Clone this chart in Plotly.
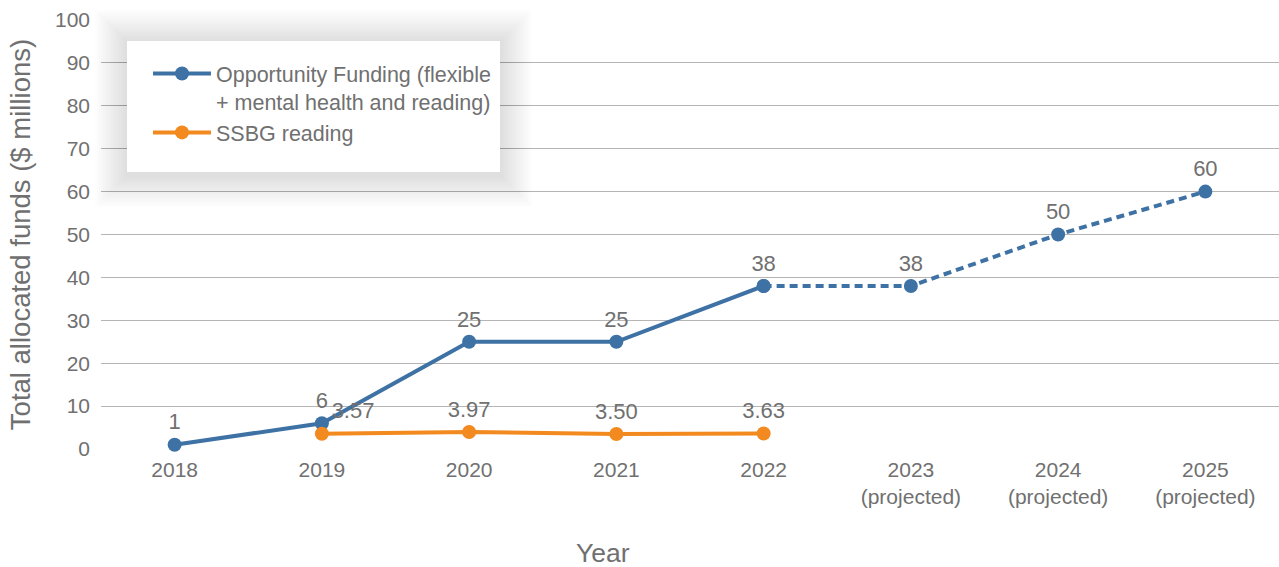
import plotly.graph_objects as go

# Funding years (the last three are projections)
years = ["2018", "2019", "2020", "2021", "2022",
         "2023<br>(projected)", "2024<br>(projected)", "2025<br>(projected)"]

# Opportunity Funding, $ millions
opportunity_actual = [1, 6, 25, 25, 38]
opportunity_projected = [38, 38, 50, 60]          # 2022 anchor + 2023-2025

# SSBG reading, $ millions (2019-2022)
ssbg_years = ["2019", "2020", "2021", "2022"]
ssbg_values = [3.57, 3.97, 3.50, 3.63]

y_ticks = [0, 10, 20, 30, 40, 50, 60, 70, 80, 90, 100]

BLUE = "#3E72A5"
ORANGE = "#F28A1F"
TEXT = "#707070"
GRID = "#B5B5B5"
FONT = "Liberation Sans, Arial, Helvetica, sans-serif"

W, H = 1279, 567
M_L, M_R, M_T, M_B = 101, 0, 20, 118
PW, PH = W - M_L - M_R, H - M_T - M_B


def px_x(px):
    return (px - M_L) / PW


def px_y(py):
    return (H - M_B - py) / PH


fig = go.Figure()

fig.add_trace(go.Scatter(
    x=years[:5], y=opportunity_actual,
    mode="lines+markers+text",
    name="Opportunity Funding (flexible<br>+ mental health and reading)",
    line=dict(color=BLUE, width=4),
    marker=dict(color=BLUE, size=14),
    text=[f"{v:.0f}" for v in opportunity_actual],
    textposition="top center",
    textfont=dict(color=TEXT, size=22, family=FONT),
    cliponaxis=False,
))

fig.add_trace(go.Scatter(
    x=years[4:], y=opportunity_projected,
    mode="lines+markers+text",
    showlegend=False,
    line=dict(color=BLUE, width=4, dash="8px,5px"),
    marker=dict(color=BLUE, size=14),
    text=[""] + [f"{v:.0f}" for v in opportunity_projected[1:]],
    textposition="top center",
    textfont=dict(color=TEXT, size=22, family=FONT),
    cliponaxis=False,
))

fig.add_trace(go.Scatter(
    x=ssbg_years, y=ssbg_values,
    mode="lines+markers+text",
    name="SSBG reading",
    line=dict(color=ORANGE, width=4),
    marker=dict(color=ORANGE, size=14),
    text=[f"{v:.2f}" for v in ssbg_values],
    textposition=["top right", "top center", "top center", "top center"],
    textfont=dict(color=TEXT, size=22, family=FONT),
    cliponaxis=False,
))

# Legend panel: white card with a soft drop shadow
box_l, box_t, box_r, box_b = 127, 41, 500, 172
shapes = []
layers = 16
for i in range(layers, 0, -1):
    e = i * 2.0
    shapes.append(dict(
        type="rect", xref="paper", yref="paper", layer="above",
        x0=px_x(box_l - e), x1=px_x(box_r + e),
        y0=px_y(box_b + e + 3), y1=px_y(box_t - e + 1),
        fillcolor="rgba(0,0,0,0.009)", line=dict(width=0),
    ))
shapes.append(dict(
    type="rect", xref="paper", yref="paper", layer="above",
    x0=px_x(box_l), x1=px_x(box_r), y0=px_y(box_b), y1=px_y(box_t),
    fillcolor="white", line=dict(width=0),
))

fig.update_layout(
    width=W, height=H,
    margin=dict(l=M_L, r=M_R, t=M_T, b=M_B, autoexpand=False),
    paper_bgcolor="white", plot_bgcolor="white",
    font=dict(family=FONT, color=TEXT, size=21),
    shapes=shapes,
    showlegend=True,
    legend=dict(
        x=px_x(148), y=px_y(53), xanchor="left", yanchor="top",
        bgcolor="rgba(0,0,0,0)", borderwidth=0,
        font=dict(size=21.5, color=TEXT, family=FONT),
        itemwidth=58, valign="top", tracegroupgap=15,
    ),
    xaxis=dict(
        type="category", categoryorder="array", categoryarray=years,
        range=[-0.5, 7.5], showgrid=False, showline=False, zeroline=False,
        ticks="", tickfont=dict(size=21, color=TEXT, family=FONT),
        ticklabelstandoff=6,
        fixedrange=True,
    ),
    yaxis=dict(
        range=[0, 100], tickvals=y_ticks, showgrid=True, gridcolor=GRID,
        gridwidth=1.2, zeroline=False, showline=False, ticks="",
        tickfont=dict(size=21, color=TEXT, family=FONT),
        ticklabelstandoff=10,
        title=dict(text="Total allocated funds ($ millions)",
                   font=dict(size=27.5, color=TEXT, family=FONT), standoff=16),
        fixedrange=True,
    ),
    annotations=[dict(
        text="Year", xref="paper", yref="paper",
        x=px_x(603), y=px_y(553), xanchor="center", yanchor="middle",
        showarrow=False, font=dict(size=26.5, color=TEXT, family=FONT),
    )],
)

fig.write_html("out.html")
